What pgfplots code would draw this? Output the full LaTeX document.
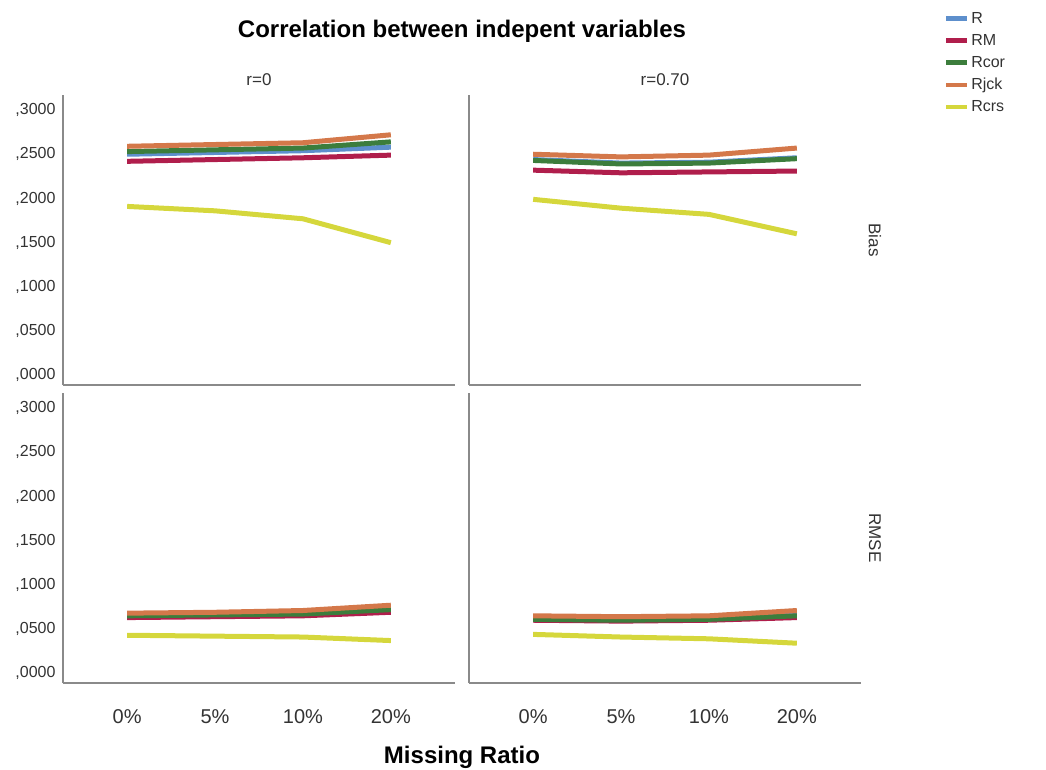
\documentclass[border=0pt]{standalone}
\usepackage{fontspec}
\setmainfont{Liberation Sans}
\usepackage{pgfplots}
\pgfplotsset{compat=1.18}
\definecolor{cR}{HTML}{5D8FCC}
\definecolor{cRM}{HTML}{B01E4C}
\definecolor{cRcor}{HTML}{3C7D3C}
\definecolor{cRjck}{HTML}{D4784A}
\definecolor{cRcrs}{HTML}{D5D73C}
\definecolor{axgray}{HTML}{8A8A8A}
\pgfplotsset{
  panel/.style={
    scale only axis, width=392pt, height=290pt,
    xmin=-0.73, xmax=3.73, ymin=-0.011, ymax=0.317,
    axis x line=bottom, axis y line=left,
    axis line style={draw=axgray, line width=1.3pt, -},
    xtick={0,1,2,3}, xticklabels={},
    ytick={0,0.05,0.1,0.15,0.2,0.25,0.3}, yticklabels={},
    major tick length=0pt,
    every axis plot/.append style={line width=5pt, line join=round, line cap=butt},
    /pgf/number format/assume math mode=true,
  },
  ylab/.style={yticklabels={{,0000},{,0500},{,1000},{,1500},{,2000},{,2500},{,3000}},
    yticklabel style={font=\fontsize{16}{19}\selectfont, text=black!80, xshift=-4pt}},
  xlab/.style={xticklabels={0\%,5\%,10\%,20\%},
    xticklabel style={font=\fontsize{20}{23}\selectfont, text=black!80, yshift=-23pt}},
}
\begin{document}
\begin{tikzpicture}
\useasboundingbox (0,0) rectangle (1046pt,-769pt);
% Top-left: Bias, r=0
\begin{axis}[panel, ylab, at={(63pt,-385pt)}, anchor=south west]
\addplot[cR] coordinates {(0,0.250)(1,0.252)(2,0.254)(3,0.258)};
\addplot[cRM] coordinates {(0,0.242)(1,0.244)(2,0.246)(3,0.249)};
\addplot[cRcor] coordinates {(0,0.253)(1,0.255)(2,0.257)(3,0.264)};
\addplot[cRjck] coordinates {(0,0.259)(1,0.261)(2,0.263)(3,0.272)};
\addplot[cRcrs] coordinates {(0,0.191)(1,0.186)(2,0.177)(3,0.150)};
\end{axis}
% Top-right: Bias, r=0.70
\begin{axis}[panel, at={(469pt,-385pt)}, anchor=south west,
  legend style={at={(1.203,1.30)}, anchor=north west, draw=none, fill=none,
    font=\fontsize{16}{19}\selectfont, row sep=5.5pt, text=black!80,
    /tikz/every even column/.append style={column sep=0pt}},
  legend cell align=left,
  legend image code/.code={\draw[#1, line width=4.5pt] (0pt,0pt) -- (21pt,0pt);}]
\addplot[cR] coordinates {(0,0.244)(1,0.240)(2,0.241)(3,0.246)};
\addplot[cRM] coordinates {(0,0.232)(1,0.229)(2,0.230)(3,0.231)};
\addplot[cRcor] coordinates {(0,0.243)(1,0.239)(2,0.240)(3,0.245)};
\addplot[cRjck] coordinates {(0,0.250)(1,0.247)(2,0.249)(3,0.257)};
\addplot[cRcrs] coordinates {(0,0.199)(1,0.189)(2,0.182)(3,0.160)};
\legend{R,RM,Rcor,Rjck,Rcrs}
\end{axis}
% Bottom-left: RMSE, r=0
\begin{axis}[panel, ylab, xlab, at={(63pt,-683pt)}, anchor=south west]
\addplot[cR] coordinates {(0,0.065)(1,0.066)(2,0.067)(3,0.071)};
\addplot[cRM] coordinates {(0,0.063)(1,0.064)(2,0.065)(3,0.069)};
\addplot[cRcor] coordinates {(0,0.065)(1,0.066)(2,0.067)(3,0.072)};
\addplot[cRjck] coordinates {(0,0.068)(1,0.069)(2,0.071)(3,0.077)};
\addplot[cRcrs] coordinates {(0,0.043)(1,0.042)(2,0.041)(3,0.037)};
\end{axis}
% Bottom-right: RMSE, r=0.70
\begin{axis}[panel, xlab, at={(469pt,-683pt)}, anchor=south west]
\addplot[cR] coordinates {(0,0.061)(1,0.060)(2,0.061)(3,0.066)};
\addplot[cRM] coordinates {(0,0.060)(1,0.059)(2,0.060)(3,0.063)};
\addplot[cRcor] coordinates {(0,0.061)(1,0.060)(2,0.061)(3,0.065)};
\addplot[cRjck] coordinates {(0,0.065)(1,0.064)(2,0.065)(3,0.071)};
\addplot[cRcrs] coordinates {(0,0.044)(1,0.041)(2,0.039)(3,0.034)};
\end{axis}
\node[font=\bfseries\fontsize{24}{28}\selectfont] at (462pt,-31pt) {Correlation between indepent variables};
\node[font=\fontsize{17}{20}\selectfont, text=black!80] at (259pt,-80pt) {r=0};
\node[font=\fontsize{17}{20}\selectfont, text=black!80] at (665pt,-80pt) {r=0.70};
\node[font=\fontsize{17}{20}\selectfont, text=black!80, rotate=-90] at (875pt,-240pt) {Bias};
\node[font=\fontsize{17}{20}\selectfont, text=black!80, rotate=-90] at (875pt,-538pt) {RMSE};
\node[font=\bfseries\fontsize{24}{28}\selectfont] at (462pt,-757pt) {Missing Ratio};
\end{tikzpicture}
\end{document}
